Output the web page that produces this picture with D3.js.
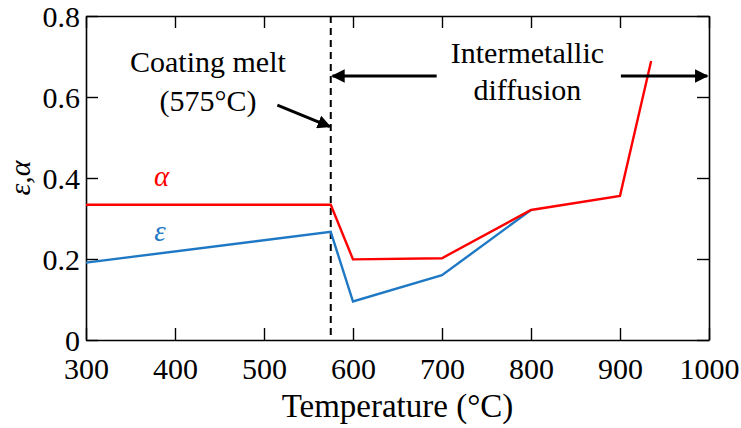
<!DOCTYPE html>
<html>
<head>
<meta charset="utf-8">
<script src="https://cdn.jsdelivr.net/npm/d3@7"></script>
<style>
  body { margin: 0; background: #fff; }
  svg text { font-family: "Liberation Serif", "Times New Roman", "DejaVu Serif", serif; fill: #000; }
</style>
</head>
<body>
<svg id="chart" width="741" height="428"></svg>
<script>
// ---- data ----
var alphaTemp = [300, 575, 600, 700, 800, 900, 935];
var alphaVals = [0.334, 0.334, 0.199, 0.202, 0.321, 0.356, 0.689];
var epsTemp = [300, 575, 600, 700, 800];
var epsVals = [0.191, 0.267, 0.095, 0.160, 0.321];
var xTicks = [300, 400, 500, 600, 700, 800, 900, 1000];
var yTicks = [0, 0.2, 0.4, 0.6, 0.8];
var meltTemp = 575;

var serif = '"Liberation Serif", "Times New Roman", "DejaVu Serif", serif';
var margin = {left: 86, top: 16, right: 32, bottom: 88};
var width = 741 - margin.left - margin.right;
var height = 428 - margin.top - margin.bottom;

var svg = d3.select("svg#chart");
var g = svg.append("g").attr("transform", "translate(" + margin.left + "," + margin.top + ")");

var xScale = d3.scaleLinear().domain([300, 1000]).range([0, width]);
var yScale = d3.scaleLinear().domain([0, 0.8]).range([height, 0]);

var fmtY = function(d) { return d == 0 ? "0" : d3.format(".1f")(d) };

// axes, ticks pointing inward
var axisB = d3.axisBottom(xScale).tickValues(xTicks).tickSizeInner(-12).tickSizeOuter(0).tickPadding(18).tickFormat(d3.format("d"));
var axisL = d3.axisLeft(yScale).tickValues(yTicks).tickSizeInner(-12).tickSizeOuter(0).tickPadding(6).tickFormat(fmtY);
var axisT = d3.axisTop(xScale).tickValues(xTicks).tickSizeInner(-12).tickSizeOuter(0).tickFormat("");
var axisR = d3.axisRight(yScale).tickValues(yTicks).tickSizeInner(-12).tickSizeOuter(0).tickFormat("");

g.append("g").attr("class", "axis axis--x").attr("transform", "translate(0," + height + ")").call(axisB);
g.append("g").attr("class", "axis axis--y").call(axisL);
g.append("g").attr("class", "axis axis--t").call(axisT);
g.append("g").attr("class", "axis axis--r").attr("transform", "translate(" + width + ",0)").call(axisR);

g.selectAll(".axis").attr("font-family", serif);
g.selectAll(".axis path").style("stroke", "#000").style("stroke-width", 1.6);
g.selectAll(".axis .tick line").style("stroke", "#000").style("stroke-width", 1.4);
g.selectAll(".axis text").style("font-size", "30px").style("font-family", serif);
g.select(".axis--x").selectAll("text").attr("dy", "0.71em");
g.select(".axis--y").selectAll("text").attr("dy", "0.35em");

// dashed melt line
g.append("line")
  .attr("x1", xScale(meltTemp)).attr("x2", xScale(meltTemp))
  .attr("y1", 0).attr("y2", height)
  .style("stroke", "#000").style("stroke-width", 2).style("stroke-dasharray", "7,5");

// series
var line = d3.line().x(function(d) { return xScale(d[0]) }).y(function(d) { return yScale(d[1]) });
var alphaData = alphaTemp.map(function(t, i) { return [t, alphaVals[i]] });
var epsData = epsTemp.map(function(t, i) { return [t, epsVals[i]] });

g.append("path").datum(epsData).attr("d", line)
  .style("fill", "none").style("stroke", "#1f78c4").style("stroke-width", 2.4);
g.append("path").datum(alphaData).attr("d", line)
  .style("fill", "none").style("stroke", "#ff0000").style("stroke-width", 2.4);

// series labels
g.append("text").attr("x", xScale(385)).attr("y", yScale(0.4) + 8)
  .attr("text-anchor", "middle").style("font-size", "29px").style("font-style", "italic")
  .style("fill", "#ff0000").text("α");
g.append("text").attr("x", xScale(383)).attr("y", yScale(0.265) + 8)
  .attr("text-anchor", "middle").style("font-size", "29px").style("font-style", "italic")
  .style("fill", "#1f78c4").text("ε");

// annotations
var defs = svg.append("defs");
defs.append("marker").attr("id", "head").attr("viewBox", "0 0 10 10")
  .attr("refX", 9).attr("refY", 5).attr("markerWidth", 4.5).attr("markerHeight", 4.5)
  .attr("orient", "auto-start-reverse")
  .append("path").attr("d", "M0,0 L10,5 L0,10 z").style("fill", "#000");

var annoSize = "30px";
g.append("text").attr("x", xScale(437)).attr("y", 56).attr("text-anchor", "middle")
  .style("font-size", annoSize).text("Coating melt");
g.append("text").attr("x", xScale(437)).attr("y", 95).attr("text-anchor", "middle")
  .style("font-size", annoSize).text("(575°C)");
g.append("line")
  .attr("x1", xScale(515)).attr("y1", yScale(0.58))
  .attr("x2", xScale(574)).attr("y2", yScale(0.527))
  .style("stroke", "#000").style("stroke-width", 3).attr("marker-end", "url(#head)");

g.append("text").attr("x", xScale(796)).attr("y", 47).attr("text-anchor", "middle")
  .style("font-size", annoSize).text("Intermetallic");
g.append("text").attr("x", xScale(796)).attr("y", 84).attr("text-anchor", "middle")
  .style("font-size", annoSize).text("diffusion");
var arrowY = yScale(0.652);
g.append("line")
  .attr("x1", xScale(694)).attr("y1", arrowY).attr("x2", xScale(577)).attr("y2", arrowY)
  .style("stroke", "#000").style("stroke-width", 3).attr("marker-end", "url(#head)");
g.append("line")
  .attr("x1", xScale(901)).attr("y1", arrowY).attr("x2", xScale(998)).attr("y2", arrowY)
  .style("stroke", "#000").style("stroke-width", 3).attr("marker-end", "url(#head)");

// axis titles
svg.append("text").attr("x", margin.left + width / 2).attr("y", 417)
  .attr("text-anchor", "middle").style("font-size", "33px").text("Temperature (°C)");
svg.append("text")
  .attr("transform", "translate(30," + (margin.top + height / 2) + ") rotate(-90)")
  .attr("text-anchor", "middle").style("font-size", "30px").style("font-style", "italic")
  .text("ε,α");
</script>
</body>
</html>
